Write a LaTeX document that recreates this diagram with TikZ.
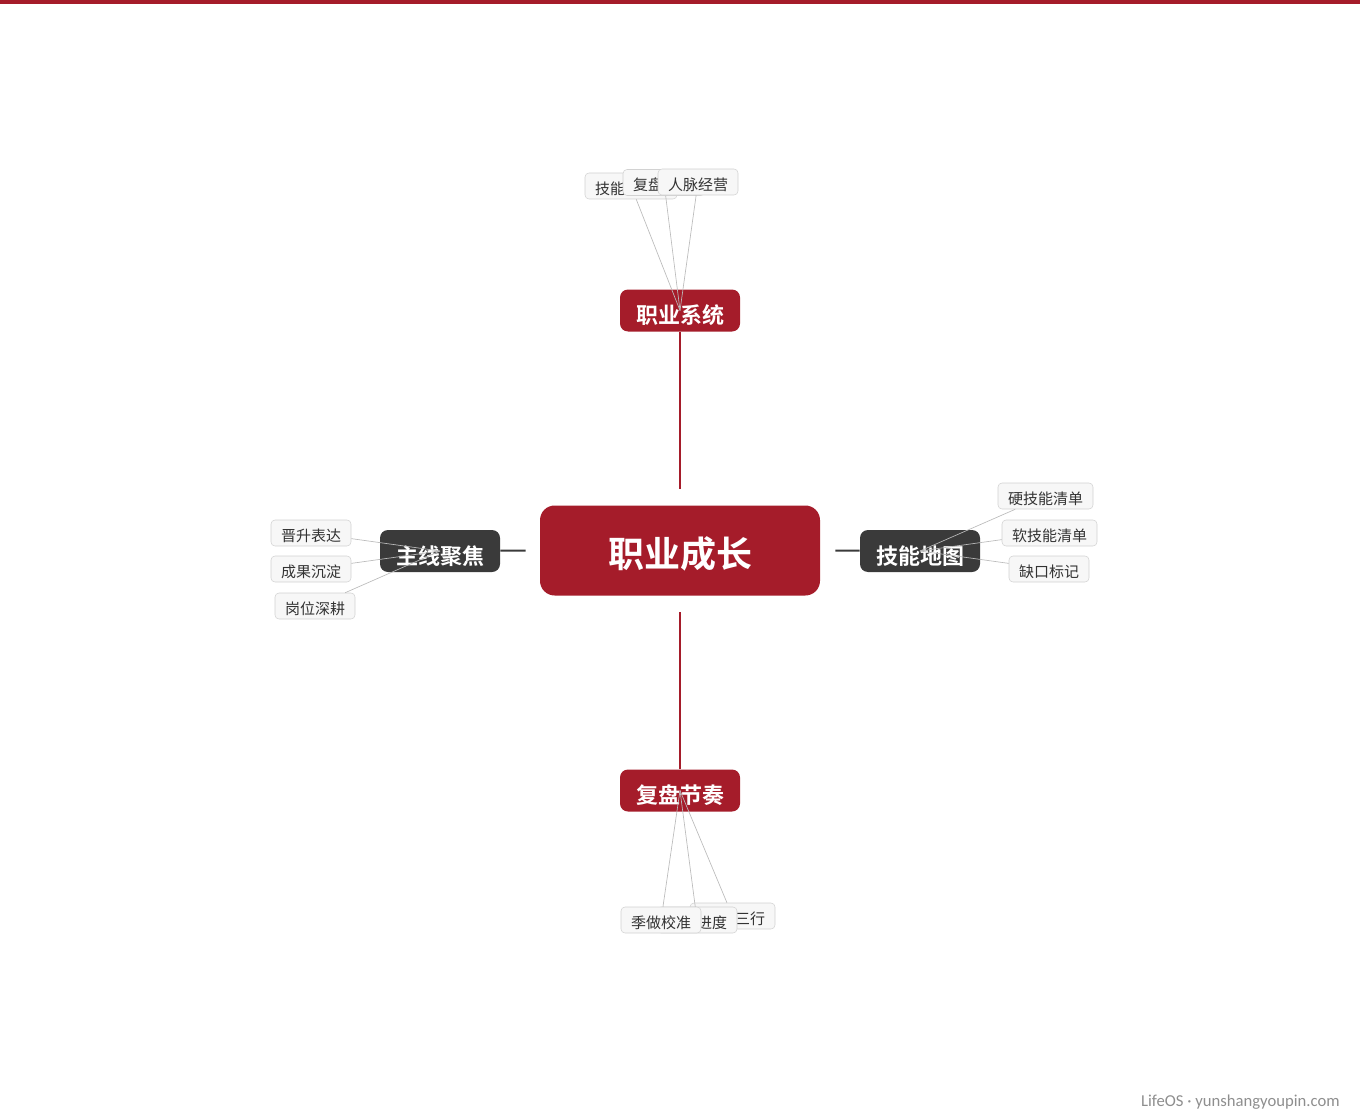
\documentclass[tikz,border=0pt]{standalone}
\usepackage{fontspec}
\setmainfont{Noto Sans CJK SC}[BoldFont={Noto Sans CJK SC Bold}]
\newfontfamily\footfont{Carlito}
\usepackage{xcolor}
\usetikzlibrary{positioning}

\definecolor{careerred}{HTML}{A51C2A}
\definecolor{branchgray}{HTML}{3A3A3A}
\definecolor{leaffill}{HTML}{F7F7F7}
\definecolor{leafedge}{HTML}{D2D2D2}
\definecolor{twiggray}{HTML}{BBBBBB}
\definecolor{footgray}{HTML}{8E8E8E}

\begin{document}
\begin{tikzpicture}[
  x=0.75pt, y=-0.75pt,
  root/.style={
    rectangle,
    fill=careerred,
    rounded corners=11pt,
    minimum width=210pt,
    minimum height=67.5pt,
    inner sep=0pt,
    text=white,
    text height=26pt,
    text depth=0pt,
    font=\fontsize{27}{30}\selectfont\bfseries,
  },
  branch/.style={
    rectangle,
    rounded corners=6pt,
    minimum width=90pt,
    minimum height=31.5pt,
    inner sep=0pt,
    text=white,
    text height=19.5pt,
    text depth=0pt,
    font=\fontsize{16.5}{18}\selectfont\bfseries,
  },
  redbranch/.style={branch, fill=careerred},
  darkbranch/.style={branch, fill=branchgray},
  leaf/.style={
    rectangle,
    draw=leafedge,
    fill=leaffill,
    rounded corners=3pt,
    minimum height=19.5pt,
    inner xsep=7.5pt,
    inner ysep=0pt,
    text=black!80,
    text height=12.5pt,
    text depth=0pt,
    font=\fontsize{11.25}{13}\selectfont,
  },
  redlink/.style={draw=careerred, line width=1.5pt},
  darklink/.style={draw=branchgray, line width=1.5pt},
  twig/.style={draw=twiggray, line width=0.5pt}
]
\useasboundingbox (0,0) rectangle (1360,1120);

% ===== TOP BAR =====
\fill[careerred] (0,0) rectangle (1360,4);

% ===== ROOT AND BRANCHES =====
\node[root] (growth) at (680,550.5) {职业成长};

\node[redbranch] (system) at (680,310.5) {职业系统};
\node[redbranch] (rhythm) at (680,790.5) {复盘节奏};
\node[darkbranch] (focus) at (440,551) {主线聚焦};
\node[darkbranch] (skillmap) at (920,551) {技能地图};

% free ends of the branch links, kept off the root
\coordinate[above=12pt of growth.north] (gN);
\coordinate[below=12pt of growth.south] (gS);
\coordinate[left=10.5pt of growth.west] (gW);
\coordinate[right=11.25pt of growth.east] (gE);

\draw[redlink] (system) -- (gN);
\draw[redlink] (rhythm) -- (gS);
\draw[darklink] (focus) -- (gW);
\draw[darklink] (skillmap) -- (gE);

% ===== LEAVES: TOP =====
\node[leaf, text width=54pt, align=left] (s1) at (631,186) {技能};
\node[leaf, text width=46.5pt, align=left] (s2) at (664,182.5) {复盘};
\node[leaf] (s3) at (698,182) {人脉经营};

% ===== LEAVES: BOTTOM =====
\node[leaf, text width=48.75pt, align=right] (r3) at (732.5,916) {三行};
\node[leaf, text width=45pt, align=right] (r2) at (697,920) {进度};
\node[leaf] (r1) at (661,920) {季做校准};

% ===== LEAVES: LEFT =====
\node[leaf] (f1) at (311,533) {晋升表达};
\node[leaf] (f2) at (311,569) {成果沉淀};
\node[leaf] (f3) at (315,606) {岗位深耕};

% ===== LEAVES: RIGHT =====
\node[leaf] (k1) at (1045.5,496) {硬技能清单};
\node[leaf] (k2) at (1049.5,533) {软技能清单};
\node[leaf] (k3) at (1049,569) {缺口标记};

% ===== TWIGS =====
\foreach \t in {s1,s2,s3} \draw[twig] (\t) -- (system.center);
\foreach \t in {r1,r2,r3} \draw[twig] (\t) -- (rhythm.center);
\foreach \t in {f1,f2,f3} \draw[twig] (\t) -- (focus.center);
\foreach \t in {k1,k2,k3} \draw[twig] (\t) -- (skillmap.center);

% ===== FOOTER =====
\node[anchor=east, inner sep=0pt, text=footgray, font=\footfont\fontsize{12.5}{14}\selectfont] (foot) at (1340,1102) {LifeOS · yunshangyoupin.com};

\end{tikzpicture}
\end{document}
